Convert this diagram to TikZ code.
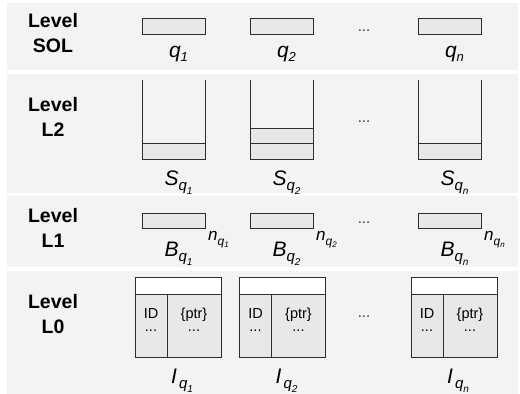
\documentclass[tikz,border=0pt]{standalone}
\usepackage{fontspec}
\setmainfont{Liberation Sans}
\definecolor{bandgray}{HTML}{F3F3F3}
\definecolor{boxgray}{HTML}{E8E8E8}
\definecolor{edgegray}{HTML}{2E2E2E}
% subscript with a nested index: q_{#1}
\newcommand{\qsub}[1]{\raisebox{-0.28em}{\fontsize{15}{15}\selectfont q\raisebox{-0.22em}{\fontsize{10}{10}\selectfont #1}}}
\newcommand{\nsub}[1]{\raisebox{-0.3em}{\fontsize{12}{12}\selectfont q\raisebox{-0.2em}{\fontsize{8}{8}\selectfont #1}}}
\tikzset{
  band/.style={fill=bandgray, draw=none},
  cell/.style={draw=edgegray, fill=boxgray, line width=0.85pt},
  wall/.style={draw=edgegray, line width=0.85pt},
  lvl/.style={font=\fontsize{19.5}{25}\selectfont\bfseries, align=center},
  lbl/.style={font=\fontsize{21}{24}\selectfont\itshape, anchor=base, inner sep=0pt},
  nlbl/.style={font=\fontsize{17}{19}\selectfont\itshape, anchor=base west, inner sep=0pt},
  small/.style={font=\fontsize{14.5}{16}\selectfont, anchor=base, inner sep=0pt},
  gap/.style={font=\fontsize{15}{18}\selectfont, text=black!80},
}
\begin{document}
\begin{tikzpicture}[x=1pt, y=-1pt]
  \useasboundingbox (0,0) rectangle (520,394);
  % level bands
  \foreach \a/\b in {3/70, 74/193, 196/267, 271/394}
    \fill[band] (7,\a) rectangle (518,\b);
  \foreach \y/\l/\nm in {33.5/SOL/sol, 116.5/L2/ltwo, 227.5/L1/lone, 314.5/L0/lzero}
    \node[lvl] (lvl-\nm) at (53,\y) {Level\\\l};
  % level SOL: queries
  \foreach \x/\i in {173.5/1, 281.5/2, 449.5/n} {
    \draw[cell] (\x-31.5,18) rectangle (\x+31.5,34);
    \node[lbl] (q-\i) at (\x+5,57) {q\raisebox{-0.2em}{\fontsize{13}{13}\selectfont\i}};
  }
  \node[gap] (dots-sol) at (364,31) {...};
  % level L2: stacks
  \foreach \x/\i in {173.5/1, 281.5/2, 449.5/n} {
    \draw[cell] (\x-31.5,143) rectangle (\x+31.5,159);
    \draw[wall] (\x-31.5,80) -- (\x-31.5,143) (\x+31.5,80) -- (\x+31.5,143);
    \node[lbl] (s-\i) at (\x+5,185) {S\qsub{\i}};
  }
  \draw[cell] (250,128) rectangle (313,143);
  \node[gap] (dots-ltwo) at (364,122) {...};
  % level L1: buffers
  \foreach \x/\i in {173.5/1, 281.5/2, 449.5/n} {
    \draw[cell] (\x-31.5,213) rectangle (\x+31.5,228);
    \node[lbl] (b-\i) at (\x+5,256) {B\qsub{\i}};
    \node[nlbl] (n-\i) at (\x+34.5,240) {n\nsub{\i}};
  }
  \node[gap] (dots-lone) at (364,223) {...};
  % level L0: indexes
  \foreach \x/\i in {178/1, 282.5/2, 454/n} {
    \draw[cell] (\x-43,294) rectangle (\x+43,357);
    \draw[cell, fill=white] (\x-43,277) rectangle (\x+43,294);
    \draw[wall] (\x-11,294) -- (\x-11,357);
    \node[small] (id-\i) at (\x-27,318) {ID};
    \node[small] (ptr-\i) at (\x+16,318) {\{ptr\}};
    \node[small] (idd-\i) at (\x-27,331) {...};
    \node[small] (ptrd-\i) at (\x+16,331) {...};
    \node[lbl] (i-\i) at (\x+4,383) {I\hspace{0.1em}\qsub{\i}};
  }
  \node[gap] (dots-lzero) at (364,317) {...};
\end{tikzpicture}
\end{document}
